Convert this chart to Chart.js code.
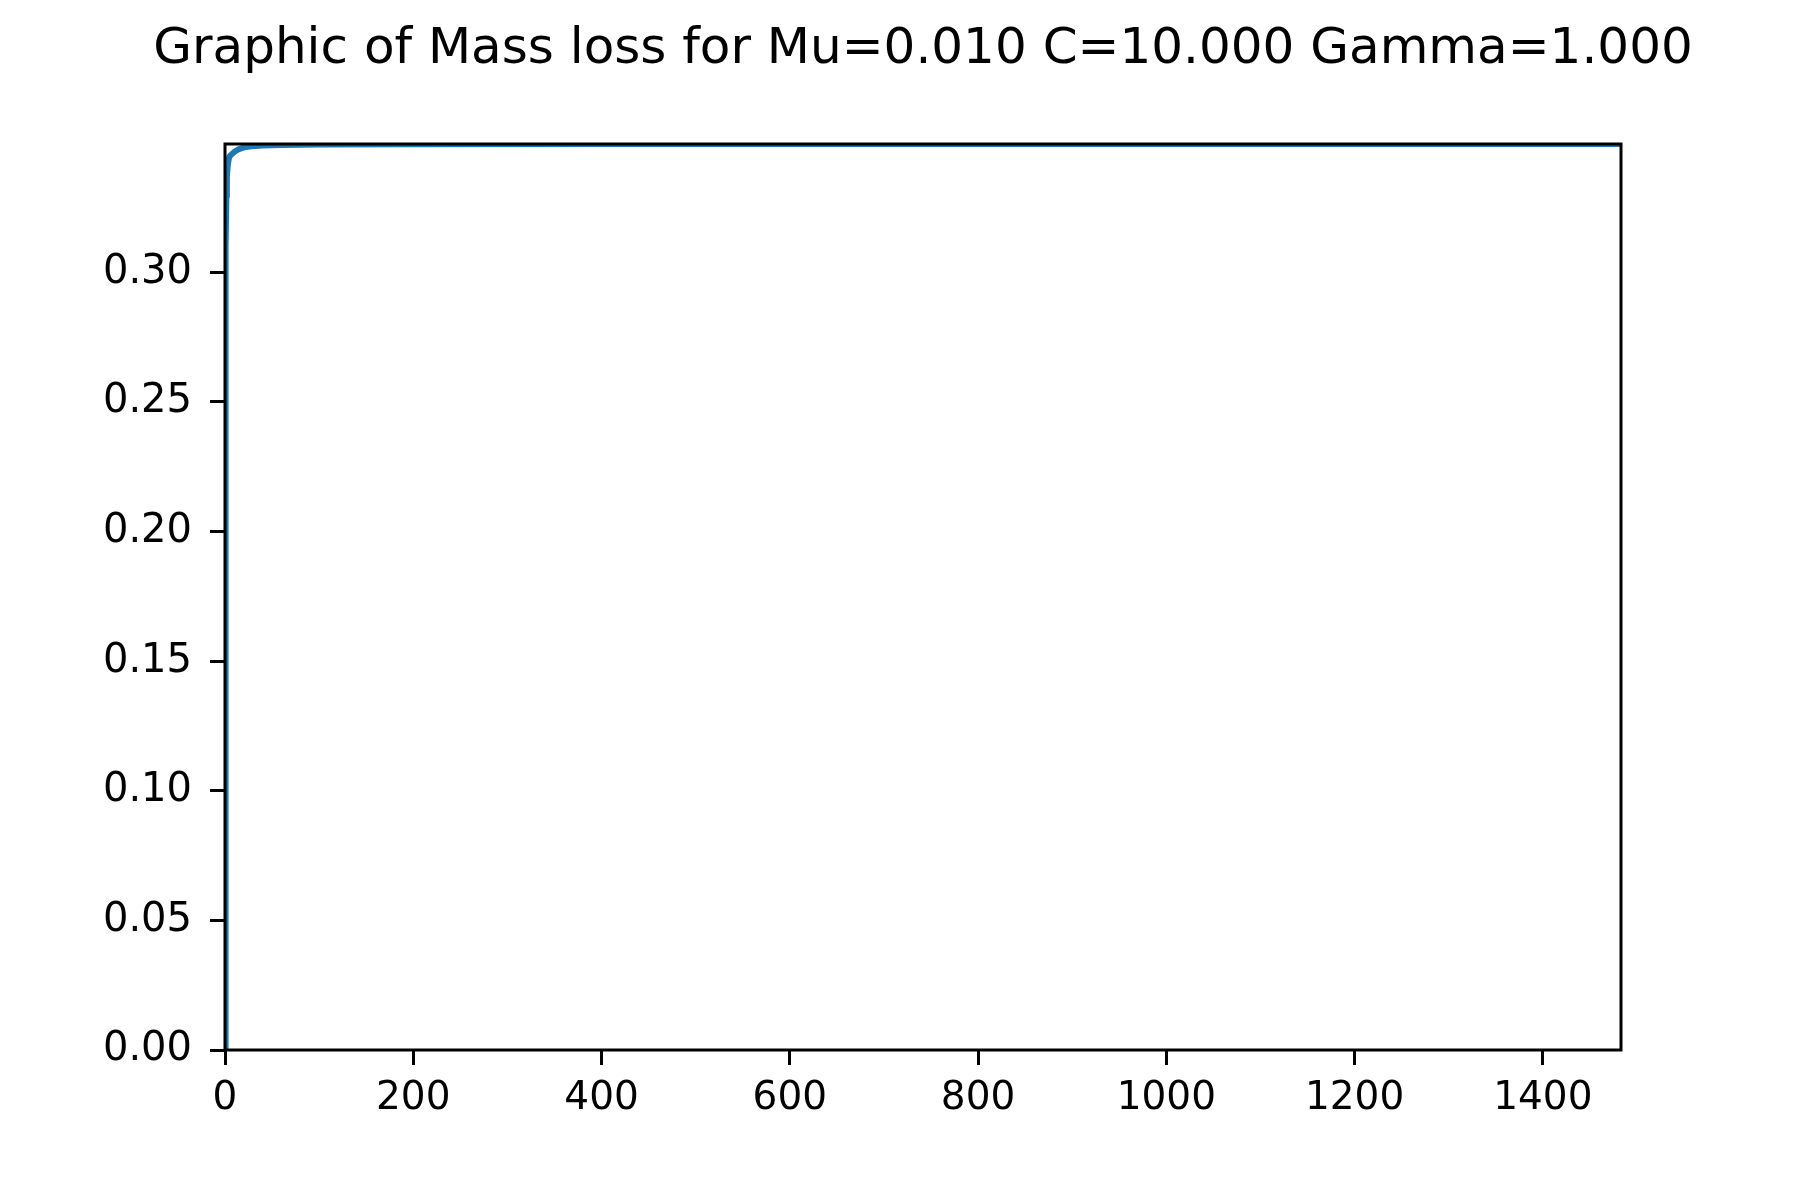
<!DOCTYPE html>
<html>
<head>
<meta charset="utf-8">
<title>Mass loss</title>
<script src="https://cdn.jsdelivr.net/npm/chart.js@4"></script>
<style>
  html, body { margin: 0; padding: 0; background: #fff; }
  #wrap { width: 1800px; height: 1200px; }
</style>
</head>
<body>
<div id="wrap"><canvas id="massChart" width="1800" height="1200"></canvas></div>
<script>
// data
const chartTitle = 'Graphic of Mass loss for Mu=0.010 C=10.000 Gamma=1.000';
const times = [0, 0.25, 0.5, 0.75, 1, 1.5, 2, 3, 4, 5, 7, 10, 14, 20, 28, 40, 60, 100, 200, 400, 800, 1483];
const massLoss = [0, 0.12, 0.22, 0.28, 0.31, 0.330, 0.337, 0.3415, 0.3437, 0.3448, 0.3455, 0.3465, 0.3474, 0.3482, 0.3486, 0.3489, 0.3491, 0.3493, 0.3494, 0.3495, 0.3495, 0.3495];
const xMax = 1483;
const yMax = 0.3495;
const xStep = 200;
const yStep = 0.05;

const FONT = 'DejaVu Sans';

// frame + title, drawn like matplotlib spines (above the line)
const framePlugin = {
    id: 'frame',
    afterDatasetsDraw(chart) {
        const { ctx, chartArea: a } = chart;
        ctx.save();
        ctx.strokeStyle = '#000';
        ctx.lineWidth = 3;
        ctx.strokeRect(a.left, a.top, a.right - a.left, a.bottom - a.top);
        ctx.restore();
    },
    afterDraw(chart) {
        const { ctx, chartArea: a } = chart;
        ctx.save();
        ctx.fillStyle = '#000';
        ctx.font = '50px "' + FONT + '"';
        ctx.textAlign = 'center';
        ctx.textBaseline = 'middle';
        ctx.fillText(chartTitle, (a.left + a.right) / 2, 50);
        ctx.restore();
    }
};

const ctx = document.getElementById('massChart').getContext('2d');
const massChart = new Chart(ctx, {
    type: 'line',
    data: {
        datasets: [{
            data: times.map((t, i) => ({ x: t, y: massLoss[i] })),
            borderColor: '#1f77b4',
            borderWidth: 6,
            pointRadius: 0,
            tension: 0,
            fill: false,
            clip: 0
        }]
    },
    options: {
        responsive: false,
        devicePixelRatio: 1,
        animation: false,
        layout: { padding: { left: 0, top: 144, right: 179, bottom: 50 } },
        plugins: {
            legend: { display: false },
            title: { display: false },
            tooltip: { enabled: false }
        },
        scales: {
            x: {
                type: 'linear',
                min: 0,
                max: xMax,
                border: { display: false },
                grid: { drawOnChartArea: false, drawTicks: true, tickLength: 15, color: '#000', lineWidth: 3 },
                ticks: {
                    stepSize: xStep,
                    includeBounds: false,
                    maxRotation: 0,
                    padding: 10,
                    color: '#000',
                    font: { family: FONT, size: 39 },
                    callback: (v) => String(v)
                },
                afterFit(scale) { scale.height = 100; }
            },
            y: {
                type: 'linear',
                min: 0,
                max: yMax,
                border: { display: false },
                grid: { drawOnChartArea: false, drawTicks: true, tickLength: 15, color: '#000', lineWidth: 3 },
                ticks: {
                    stepSize: yStep,
                    includeBounds: false,
                    padding: 18,
                    color: '#000',
                    font: { family: FONT, size: 40 },
                    callback: (v) => Number(v).toFixed(2)
                },
                afterFit(scale) { scale.width = 225; }
            }
        }
    },
    plugins: [framePlugin]
});
</script>
</body>
</html>
